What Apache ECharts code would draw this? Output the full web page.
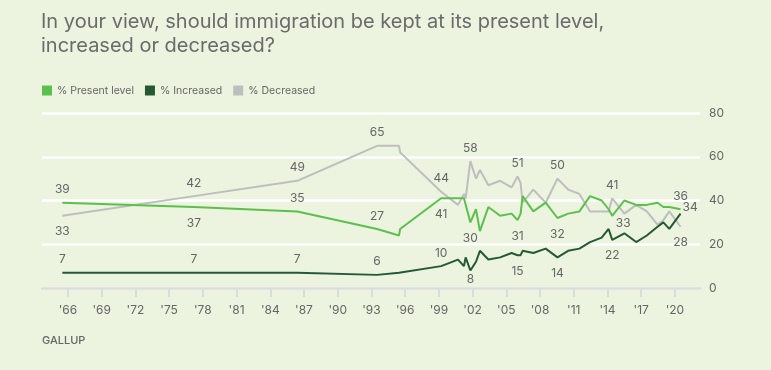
<!DOCTYPE html>
<html>
<head>
<meta charset="utf-8">
<script src="https://cdn.jsdelivr.net/npm/echarts@6/dist/echarts.min.js"></script>
<style>
html,body{margin:0;padding:0;background:#ecf3df;}
#chart{width:771px;height:370px;}
</style>
</head>
<body>
<div id="chart"></div>
<script>
// Survey dates (decimal years)
const years = [1965.5, 1977.2, 1986.4, 1993.5, 1995.45, 1995.55, 1999.2, 2000.7, 2001.23, 2001.38,
  2001.8, 2002.3, 2002.65, 2003.4, 2004.45, 2005.47, 2006.0, 2006.27, 2006.45, 2007.4,
  2008.5, 2009.55, 2010.5, 2011.5, 2012.45, 2013.48, 2014.1, 2014.42, 2015.5, 2016.55,
  2017.5, 2018.45, 2018.97, 2019.5, 2020.5];
const presentLevel = [39, 37, 35, 27, 24, 27, 41, 41, 41, 41,
  30, 36, 26, 37, 33, 34, 31, 34, 42, 35,
  39, 32, 34, 35, 42, 40, 36, 33, 40, 38,
  38, 39, 37, 37, 36];
const increased = [7, 7, 7, 6, 7, 7, 10, 13, 10, 14,
  8, 12, 17, 13, 14, 16, 15, 15, 17, 16,
  18, 14, 17, 18, 21, 23, 27, 22, 25, 21,
  24, 28, 30, 27, 34];
const decreased = [33, 42, 49, 65, 65, 62, 44, 38, 43, 41,
  58, 50, 54, 47, 49, 46, 51, 48, 39, 45,
  39, 50, 45, 43, 35, 35, 35, 41, 34, 38,
  35, 29, 31, 35, 28];
const xTickYears = [1966, 1969, 1972, 1975, 1978, 1981, 1984, 1987, 1990, 1993, 1996, 1999, 2002, 2005, 2008, 2011, 2014, 2017, 2020];
const yTicks = [0, 20, 40, 60, 80];
const seriesNames = ['% Present level', '% Increased', '% Decreased'];

// label placement (by point index)
const presentLabels = {0:'top',1:'bottom',2:'top',3:'top',6:'bottom',10:'bottom',16:'bottom',21:'bottom',27:'bottomShift',34:'top'};
const increasedLabels = {0:'top',1:'top',2:'top',3:'top',6:'top',10:'bottomNear',16:'bottom',21:'bottom',27:'bottom',34:'right'};
const decreasedLabels = {0:'bottom',1:'top',2:'top',3:'top',6:'top',10:'top',16:'top',21:'top',27:'top',34:'bottom'};

const placements = {
  top: {position:'top', distance:7},
  bottom: {position:'bottom', distance:10},
  bottomNear: {position:'bottom', distance:3},
  bottomShift: {position:'bottom', distance:2, offset:[11,0]},
  right: {position:'right', distance:2, offset:[0,-6]}
};

const FONT = 'Inter, "Noto Sans", sans-serif';
const TXT = '#666666';

function build(values, labels) {
  return years.map((y, i) => {
    const item = {value: [y, values[i]]};
    if (labels[i]) {
      item.label = Object.assign({show: true}, placements[labels[i]]);
    }
    return item;
  });
}

const colors = ['#5cc04d', '#245934', '#bebebe'];

const chart = echarts.init(document.getElementById('chart'), null, {renderer: 'canvas'});
chart.setOption({
  backgroundColor: '#ecf3df',
  animation: false,
  title: {
    text: 'In your view, should immigration be kept at its present level,\nincreased or decreased?',
    left: 41, top: 10, padding: 0,
    textStyle: {fontFamily: FONT, fontSize: 20, fontWeight: 'normal', color: '#6b6b6b', lineHeight: 24}
  },
  legend: {
    data: seriesNames,
    left: 42, top: 85, padding: 0,
    icon: 'rect', itemWidth: 10, itemHeight: 10, itemGap: 11,
    textStyle: {fontFamily: FONT, fontSize: 10.5, color: TXT}
  },
  graphic: [{
    type: 'text', left: 42, top: 335,
    style: {text: 'GALLUP', font: '500 11px ' + FONT, fill: TXT}
  }],
  grid: {left: 42, right: 71, top: 113, bottom: 82, containLabel: false},
  xAxis: {
    type: 'value', min: 1963.69, max: 2022.23,
    splitLine: {show: false},
    axisLine: {show: true, lineStyle: {color: '#dcdcdc', width: 2.5}},
    axisTick: {show: true, customValues: xTickYears, length: 9, lineStyle: {color: '#dcdcdc', width: 2}},
    axisLabel: {customValues: xTickYears, margin: 16, fontFamily: FONT, fontSize: 12, color: TXT,
      formatter: v => "'" + String(Math.round(v)).slice(2)}
  },
  yAxis: {
    type: 'value', position: 'right', min: 0, max: 80, interval: 20,
    axisLine: {show: false}, axisTick: {show: false},
    splitLine: {show: true, lineStyle: {color: '#ffffff', width: 2.5}},
    axisLabel: {margin: 9, fontFamily: FONT, fontSize: 12, color: TXT,
      formatter: v => yTicks.includes(v) ? String(v) : ''}
  },
  series: [
    {name: seriesNames[2], type: 'line', data: build(decreased, decreasedLabels), color: colors[2], z: 2},
    {name: seriesNames[0], type: 'line', data: build(presentLevel, presentLabels), color: colors[0], z: 3},
    {name: seriesNames[1], type: 'line', data: build(increased, increasedLabels), color: colors[1], z: 4}
  ].map(s => Object.assign(s, {
    symbol: 'circle', symbolSize: 0, showSymbol: true,
    lineStyle: {width: 2},
    label: {show: false, fontFamily: FONT, fontSize: 12, color: TXT},
    emphasis: {disabled: true}
  }))
});
</script>
</body>
</html>
